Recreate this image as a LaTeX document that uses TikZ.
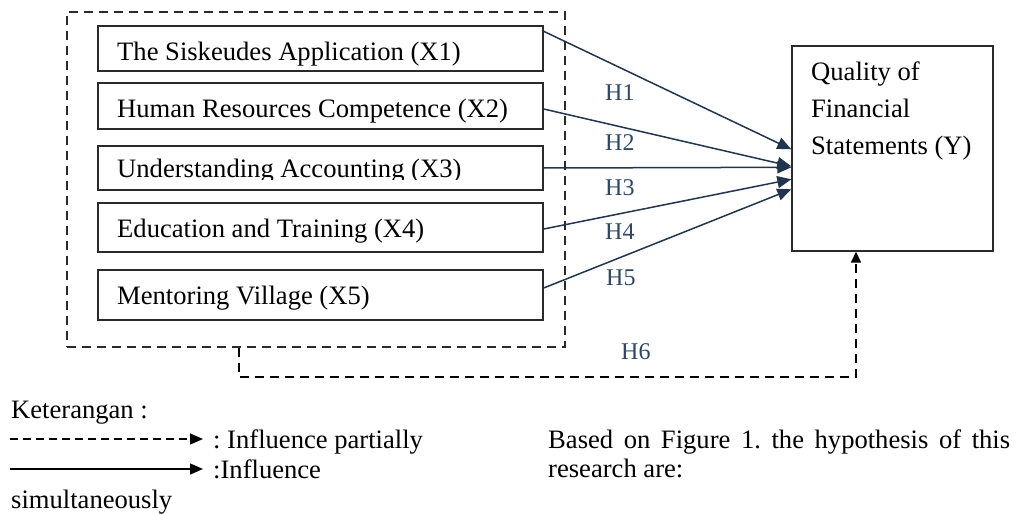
\documentclass[tikz,border=0pt]{standalone}
\usepackage{fontspec}
\setmainfont{Liberation Serif}
\usetikzlibrary{arrows.meta,calc}
\definecolor{arrowblue}{HTML}{1F3552}
\definecolor{hblue}{HTML}{2C4768}
\definecolor{boxline}{HTML}{2A2A2A}
\frenchspacing
\begin{document}
\begin{tikzpicture}[x=1pt,y=-1pt,
  every node/.style={font=\fontsize{26.6}{32}\selectfont, inner sep=0pt},
  varbox/.style={draw=boxline, line width=1.4pt, rectangle, inner sep=0pt},
  txt/.style={anchor=base west, text=black},
  hlab/.style={anchor=base west, text=hblue, font=\fontsize{24}{28}\selectfont},
  conn/.style={draw=arrowblue, line width=1.5pt, -{Triangle[length=14pt,width=12pt]}},
  groupdash/.style={draw=boxline, line width=1.6pt, dash pattern=on 9pt off 6pt},
  legdash/.style={draw=black, line width=1.4pt, dash pattern=on 8pt off 5pt, -{Triangle[length=13pt,width=11pt]}},
  legsolid/.style={draw=black, line width=1.4pt, -{Triangle[length=13pt,width=11pt]}}
]
\useasboundingbox (0,0) rectangle (1021,514);

% group (dashed) box
\node[groupdash, rectangle, minimum width=498pt, minimum height=335pt] (g) at (316,179.5) {};

% variable boxes
\node[varbox, minimum width=445pt, minimum height=45pt] (x1) at (320.5,48.5) {};
\node[varbox, minimum width=445pt, minimum height=46pt] (x2) at (320.5,106) {};
\node[varbox, minimum width=445pt, minimum height=44pt] (x3) at (320.5,168) {};
\node[varbox, minimum width=445pt, minimum height=49pt] (x4) at (320.5,227.5) {};
\node[varbox, minimum width=445pt, minimum height=50pt] (x5) at (320.5,295) {};

\node[txt] (t1) at (117,60) {The Siskeudes Application (X1)};
\node[txt] (t2) at (117,117) {Human Resources Competence (X2)};
\begin{scope}
  \clip (x3.north west) rectangle ([yshift=11pt]x3.south east);
  \node[txt] (t3) at (117,177) {Understanding Accounting (X3)};
\end{scope}
\node[txt] (t4) at (117,237.5) {Education and Training (X4)};
\node[txt] (t5) at (117,304) {Mentoring Village (X5)};

% dependent variable
\node[varbox, minimum width=201pt, minimum height=205pt] (y) at (892.5,148.5) {};
\node[txt] (ty1) at (811,80) {Quality of};
\node[txt] (ty2) at (811,117.5) {Financial};
\node[txt] (ty3) at (811,154) {Statements (Y)};

% connectors
\draw[conn] ([yshift=-6pt]x1.north east) -- ([yshift=-104pt]y.north west);
\draw[conn] ([yshift=-3pt]x2.east) -- ([yshift=-121pt]y.north west);
\draw[conn] (x3.east) -- ([yshift=-122pt]y.north west);
\draw[conn] ([yshift=-1.5pt]x4.east) -- ([yshift=-134pt]y.north west);
\draw[conn] ([yshift=7pt]x5.east) -- ([yshift=-144pt]y.north west);

\node[hlab] (h1) at (605,100.7) {H1};
\node[hlab] (h2) at (605,150.7) {H2};
\node[hlab] (h3) at (605,195.7) {H3};
\node[hlab] (h4) at (605,239) {H4};
\node[hlab] (h5) at (606,285.7) {H5};
\node[hlab] (h6) at (621,359) {H6};

% simultaneous path
\coordinate (bend) at (856,377);
\draw[groupdash, -{Triangle[length=11pt,width=10pt]}, draw=black]
  ([xshift=173pt]g.south west) |- (bend) -- (bend |- y.south);

% legend
\node[txt] (k) at (11,418) {Keterangan :};
\coordinate (l1s) at (10,439);
\coordinate (l1e) at (203,439);
\draw[legdash] (l1s) -- (l1e);
\node[txt] (l1t) at (213,448) {: Influence partially};
\coordinate (l2s) at (10,469);
\coordinate (l2e) at (203,469);
\draw[legsolid] (l2s) -- (l2e);
\node[txt] (l2t) at (213,478) {:Influence};
\node[txt] (l3t) at (11,508) {simultaneously};

\node[txt] (b1) at (548,448) {\makebox[462pt][s]{Based on Figure 1. the hypothesis of this}};
\node[txt] (b2) at (548,477) {research are:};
\end{tikzpicture}
\end{document}
